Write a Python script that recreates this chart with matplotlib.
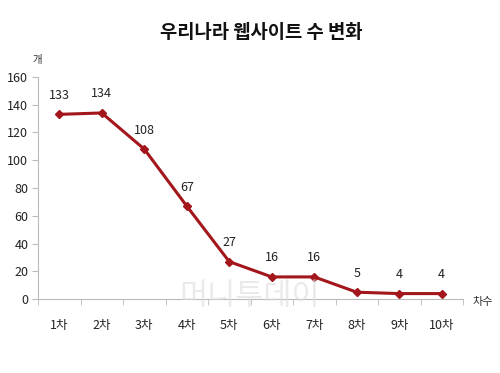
import matplotlib
matplotlib.use("Agg")
import matplotlib.pyplot as plt
import numpy as np

plt.rcParams['font.family'] = ['Noto Sans CJK KR', 'DejaVu Sans']

categories = ["1차", "2차", "3차", "4차", "5차", "6차", "7차", "8차", "9차", "10차"]
values = [133, 134, 108, 67, 27, 16, 16, 5, 4, 4]
yticks = [0, 20, 40, 60, 80, 100, 120, 140, 160]

fig = plt.figure(figsize=(5.0, 3.73), dpi=100)
ax = fig.add_axes([0.076, 0.198, 0.85, 0.596])

x = np.arange(len(categories))
color = "#A3161B"
ax.plot(x, values, color=color, lw=2.2, marker="D", ms=4.5, mfc=color, mec=color)
for xi, v in zip(x, values):
    ax.annotate(str(v), (xi, v), xytext=(0, 9), textcoords="offset points",
                ha="center", va="bottom", fontsize=9, color="#222222")

ax.set_xlim(-0.5, len(categories) - 0.5)
ax.set_ylim(0, 160)
ax.set_yticks(yticks)
ax.set_xticks(x)
ax.set_xticklabels(categories)
ax.set_xticks(np.arange(-0.5, len(categories)), minor=True)
ax.tick_params(axis="x", which="major", length=0, pad=14, labelsize=9, labelcolor="#222222")
ax.tick_params(axis="x", which="minor", length=4, color="#BBBBBB", direction="out")
ax.tick_params(axis="y", length=4, color="#BBBBBB", labelsize=9, labelcolor="#222222", pad=3)

for s in ["top", "right"]:
    ax.spines[s].set_visible(False)
for s in ["left", "bottom"]:
    ax.spines[s].set_color("#BBBBBB")
    ax.spines[s].set_linewidth(0.8)

fig.text(0.074, 0.84, "개", fontsize=7.5, ha="center", va="center", color="#333333")
fig.text(0.965, 0.19, "차수", fontsize=8, ha="center", va="center", color="#333333")
fig.text(0.522, 0.912, "우리나라 웹사이트 수 변화", fontsize=13.5, fontweight="black",
         ha="center", va="center", color="#111111")

# faint watermark
fig.text(0.5, 0.205, "머니투데이", fontsize=22, ha="center", va="center",
         color="#DDDDDD", alpha=0.6, zorder=0)

fig.savefig("out.png", dpi=100)
